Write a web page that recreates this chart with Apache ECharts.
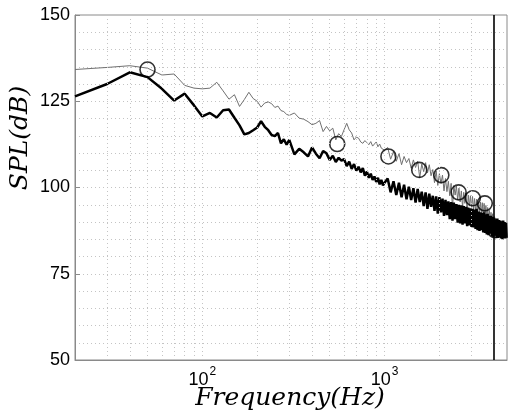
<!DOCTYPE html>
<html><head><meta charset="utf-8">
<script src="https://cdn.jsdelivr.net/npm/echarts@6/dist/echarts.min.js"></script>
<style>html,body{margin:0;padding:0;background:#fff}#c{width:510px;height:420px}</style>
</head><body><div id="c"></div><script>
const freqs = [
20,30,40,50,60,70,80,90,100,110,120,130,140,150,160,170,180,190,200,210,220,230,240,250,260,270,280,290,300,
320,340,360,380,400,420,440,460,480,500,520,540,560,580,600,620,640,660,680,700,720,740,760,780,800,820,840,860,880,900,920,940,960,980,1000,
1040,1080,1120,1160,1200,1240,1280,1320,1360,1400,
1440,1480,1520,1560,1600,1640,1680,1720,1760,1800,
1840,1880,1920,1960,2000,2040,2080,2120,2160,2200,
2240,2280,2320,2360,2400,2440,2480,2520,2560,2600,
2640,2680,2720,2760,2800,2840,2880,2920,2960,3000,
3040,3080,3120,3160,3200,3240,3280,3320,3360,3400,
3440,3480,3520,3560,3600,3640,3680,3720,3760,3800,
3840,3880,3920,3960,4000,4040,4080,4120,4160,4200,
4240,4280,4320,4360,4400,4440,4480,4520,4560,4600,
4640,4680];
const splThin = [
134.2,134.8,135.3,134.6,132.6,132.9,129.6,128.8,128.6,128.8,130.5,128.0,125.6,126.9,123.5,125.5,127.6,125.8,125.0,123.3,124.5,124.8,124.3,123.2,123.6,122.3,122.0,121.2,120.9,
121.6,120.1,119.8,119.1,118.2,118.6,119.4,116.2,117.7,116.4,117.2,113.8,115.6,114.8,116.8,118.6,116.7,115.8,113.8,114.6,114.3,113.2,112.8,113.6,113.0,112.4,113.3,112.0,112.6,113.2,111.8,112.6,111.4,111.8,110.8,
111.6,108.2,110.4,107.6,109.8,106.6,109.0,107.2,108.4,105.6,
108.0,105.8,107.6,102.8,106.8,104.6,107.2,104.2,106.6,103.4,
105.2,101.4,104.8,100.6,104.0,101.2,103.6,99.0,102.6,98.8,
101.8,97.6,101.2,93.8,100.6,97.8,100.4,96.4,99.8,95.8,
99.0,94.2,98.6,95.4,98.4,92.4,97.8,94.6,97.6,94.0,
97.4,93.4,96.8,93.0,96.6,91.8,96.0,92.6,95.8,92.2,
95.6,91.4,95.4,92.0,94.8,90.8,94.2,90.4,93.4,89.8,
92.8,89.2,92.4,88.6,91.6,88.4,91.0,87.6,90.6,87.8,
90.4,87.2,90.0,86.8,89.6,86.6,89.2,86.4,89.0,86.2,
88.8,86.4];
const splThick = [
126.4,130.0,133.4,132.0,128.6,125.2,127.2,123.8,120.6,121.6,120.3,122.4,122.6,120.2,118.0,115.4,115.8,116.6,117.4,119.2,117.6,116.6,115.2,114.9,115.8,112.8,114.0,112.4,113.8,
109.6,111.2,110.2,109.0,111.6,109.8,108.5,110.6,109.9,108.0,109.2,107.4,108.6,107.8,108.2,106.2,107.5,105.4,106.8,104.9,106.0,104.4,105.6,103.4,104.6,102.8,104.0,102.2,103.2,101.6,102.8,100.9,102.2,100.6,101.4,
102.6,98.6,101.8,97.8,101.4,97.2,100.8,96.6,100.2,96.4,
99.8,95.6,99.6,95.8,98.8,94.6,98.6,93.8,98.2,94.4,
97.6,93.2,97.4,92.4,97.2,92.8,96.8,91.8,96.4,92.0,
96.0,90.8,95.8,90.4,95.6,90.8,95.2,89.8,95.0,89.6,
94.8,89.2,94.6,89.6,94.4,88.8,94.2,89.0,94.0,88.6,
93.8,88.4,93.6,88.0,93.8,87.6,93.0,87.4,92.8,87.6,
92.6,87.0,92.8,86.8,92.2,86.4,92.4,86.2,91.8,86.6,
91.8,85.8,91.4,85.6,91.2,86.0,90.8,85.4,91.0,85.4,
90.6,85.6,90.4,85.2,90.2,85.0,90.4,85.4,90.0,85.2,
89.8,85.4];
const markerFreqs = [50,550,1050,1550,2050,2550,3050,3550,4050];
const markerSpl = [134.2,112.6,109.0,105.1,103.6,98.6,96.9,95.4,87.6];
const gridFreqs = [30,40,50,60,70,80,90,100,200,300,400,500,600,700,800,900,1000,2000,3000];
const cutoffFreq = 4000;
const xMin = 20, xMax = 4700;
const yMin = 50, yMax = 150, yStep = 25;

const pair = (xs, ys) => xs.map((x, i) => [x, ys[i]]);
const chart = echarts.init(document.getElementById('c'), null, {renderer: 'canvas'});
const gridStyle = {color: '#c4c4c4', width: 1, type: [1, 3]};
chart.setOption({
  backgroundColor: '#fff',
  animation: false,
  grid: {left: 75, top: 15, width: 436, height: 345, show: true, borderColor: '#8a8a8a', borderWidth: 1},
  xAxis: {
    type: 'log', logBase: 10, min: xMin, max: xMax,
    axisLine: {show: true, lineStyle: {color: '#8a8a8a', width: 1}},
    axisTick: {show: false},
    splitLine: {show: false},
    axisLabel: {
      margin: 6,
      formatter: v => {
        const l = Math.log10(v), e = Math.round(l);
        return Math.abs(l - e) < 1e-6 && (e === 2 || e === 3) ? '{b|10}{s|' + e + '}' : '';
      },
      rich: {
        b: {fontSize: 18, fontFamily: 'Liberation Sans', color: '#000', lineHeight: 23, verticalAlign: 'bottom'},
        s: {fontSize: 12, fontFamily: 'Liberation Sans', color: '#000', lineHeight: 23, verticalAlign: 'top', padding: [0, 0, 0, 1]}
      }
    }
  },
  yAxis: {
    type: 'value', min: yMin, max: yMax, interval: yStep,
    axisLine: {show: true, lineStyle: {color: '#8a8a8a', width: 1}},
    axisTick: {show: true, inside: true, length: 5, lineStyle: {color: '#8a8a8a'}},
    minorTick: {show: false, splitNumber: 5},
    splitLine: {show: true, lineStyle: gridStyle},
    minorSplitLine: {show: true, lineStyle: gridStyle},
    axisLabel: {color: '#000', fontSize: 18, fontFamily: 'Liberation Sans', margin: 5}
  },
  graphic: [
    {type: 'text', x: 20, y: 138, rotation: Math.PI / 2,
     style: {text: 'SPL(dB)', font: 'italic 25px "DejaVu Serif"', fill: '#000', align: 'center', verticalAlign: 'middle'}},
    {type: 'text', x: 290, y: 398,
     style: {text: 'Frequency(Hz)', font: 'italic 25px "DejaVu Serif"', fill: '#000', align: 'center', verticalAlign: 'middle'}}
  ],
  series: [
    {type: 'line', z: 0, data: [], silent: true,
     markLine: {silent: true, symbol: 'none', label: {show: false},
       lineStyle: gridStyle, data: gridFreqs.map(f => ({xAxis: f}))}},
    {type: 'line', z: 2, data: pair(freqs, splThin), showSymbol: false, symbol: 'none',
     lineStyle: {color: '#707070', width: 1}},
    {type: 'line', z: 3, data: pair(freqs, splThick), showSymbol: false, symbol: 'none',
     lineStyle: {color: '#000', width: 2.5}},
    {type: 'scatter', z: 4, data: pair(markerFreqs, markerSpl), symbol: 'circle', symbolSize: 15,
     itemStyle: {color: 'rgba(0,0,0,0)', borderColor: '#000', borderWidth: 1.6},
     markLine: {silent: true, symbol: 'none', label: {show: false},
       lineStyle: {color: '#000', width: 1.6, type: 'solid'}, data: [{xAxis: cutoffFreq}]}}
  ]
});
</script></body></html>
